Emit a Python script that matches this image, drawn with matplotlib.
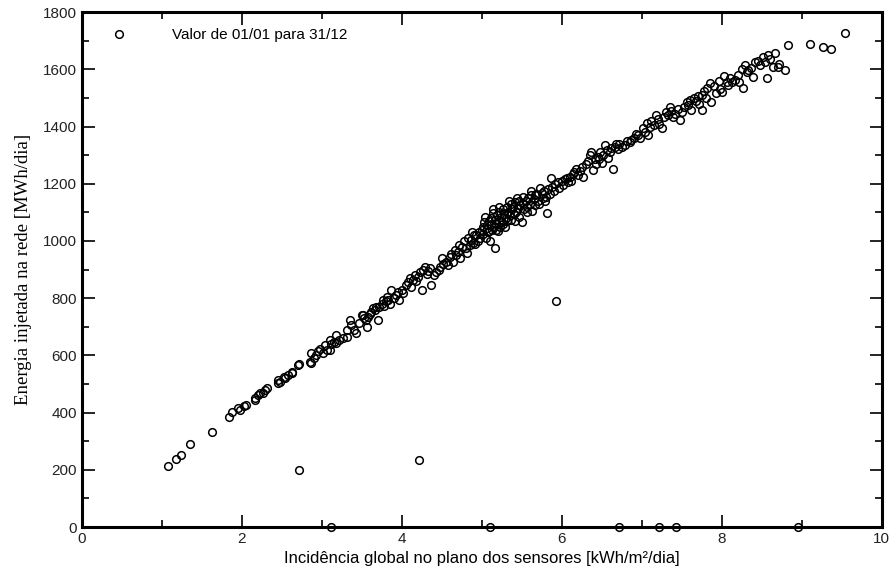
import matplotlib.pyplot as plt
from matplotlib.ticker import MultipleLocator

# daily values (kWh/m2/dia vs MWh/dia)
irrad = [
    1.08, 1.18, 1.24, 1.35, 1.63, 1.84, 1.87, 1.95, 1.97,
    2.05, 2.03, 2.16, 2.16, 2.20, 2.23, 2.26, 2.31, 2.29, 2.45, 2.45, 2.47, 2.52, 2.54,
    2.58, 2.62, 2.62, 2.70, 2.72, 2.85, 2.87, 2.87, 2.90, 2.93, 2.95, 2.98,
    3.02, 3.04, 3.06, 3.10, 3.10, 3.12, 3.15, 3.18, 3.18, 3.22, 3.27, 3.31, 3.31, 3.35,
    3.37, 3.40, 3.43, 3.50, 3.52, 3.53, 3.55, 3.56, 3.58, 3.62, 3.64, 3.66, 3.70, 3.72,
    3.75, 3.78, 3.80, 3.83, 3.85, 3.87, 3.90, 3.93, 3.96, 4.00,
    3.47, 3.60, 3.68, 3.77, 3.82, 3.95,
    4.02, 4.05, 4.08, 4.10, 4.12, 4.16, 4.18, 4.20, 4.23, 4.25, 4.27, 4.29, 4.31, 4.33,
    4.37, 4.40, 4.43, 4.46, 4.50, 4.52, 4.55, 4.58, 4.60, 4.64, 4.66, 4.68, 4.70, 4.73,
    4.75, 4.78, 4.81, 4.83, 4.85, 4.87, 4.89, 4.90, 4.93, 4.95, 4.97, 4.98,
    4.14, 4.35, 4.48, 4.62, 4.72, 4.80, 4.88, 4.92,
    5.00, 5.01, 5.02, 5.03, 5.05, 5.06, 5.07, 5.08, 5.09, 5.10, 5.11, 5.12, 5.13, 5.14,
    5.15, 5.16, 5.17, 5.18, 5.19, 5.20, 5.21, 5.22, 5.23, 5.24, 5.25, 5.26, 5.27, 5.28,
    5.30, 5.31, 5.32, 5.33, 5.35, 5.36, 5.37, 5.38, 5.39, 5.40, 5.42, 5.43, 5.45, 5.46,
    5.47, 5.48, 5.50, 5.51, 5.52, 5.53, 5.55, 5.57, 5.58, 5.60, 5.62, 5.63, 5.65, 5.67,
    5.68, 5.70, 5.72, 5.75, 5.76, 5.78, 5.80, 5.81, 5.83, 5.85, 5.87, 5.88, 5.90, 5.92,
    5.95, 5.97,
    5.04, 5.09, 5.14, 5.18, 5.22, 5.29, 5.34, 5.41, 5.44, 5.56, 5.61, 5.66, 5.73, 5.79,
    6.00, 6.02, 6.04, 6.06, 6.08, 6.10, 6.12, 6.15, 6.18, 6.20, 6.23, 6.25, 6.27, 6.30,
    6.33, 6.35, 6.37, 6.39, 6.41, 6.43, 6.45, 6.48, 6.50, 6.52, 6.54, 6.56, 6.58, 6.60,
    6.62, 6.64, 6.66, 6.70, 6.72, 6.75, 6.79, 6.82, 6.85, 6.87, 6.90, 6.93, 6.95, 6.98,
    6.14, 6.46, 6.68,
    7.02, 7.04, 7.06, 7.08, 7.10, 7.12, 7.15, 7.18, 7.20, 7.22, 7.25, 7.28, 7.30, 7.33,
    7.35, 7.37, 7.39, 7.42, 7.45, 7.48, 7.50, 7.53, 7.56, 7.58, 7.60, 7.62, 7.65, 7.68,
    7.70, 7.72, 7.75, 7.75, 7.78, 7.80, 7.82, 7.85, 7.87, 7.90, 7.93, 7.96, 7.98,
    8.00, 8.03, 8.06, 8.08, 8.10, 8.13, 8.16, 8.20, 8.22, 8.25, 8.27, 8.29, 8.31, 8.33,
    8.36, 8.39, 8.41, 8.45, 8.48, 8.52, 8.54, 8.56, 8.58, 8.60, 8.64, 8.66, 8.70, 8.72,
    8.79, 8.83, 9.10, 9.27, 9.37, 9.54,
    2.72, 4.22, 5.93,
    3.12, 5.10, 6.72, 7.22, 7.43, 8.95,
]
energia = [
    214, 237, 252, 290, 331, 383, 401, 415, 410,
    426, 423, 444, 450, 461, 468, 467, 485, 478, 502, 514, 508, 523, 520,
    530, 537, 543, 566, 569, 578, 572, 607, 590, 600, 615, 624,
    610, 636, 620, 654, 619, 640, 648, 642, 671, 655, 660, 665, 689, 723,
    706, 690, 677, 741, 741, 730, 722, 700, 735, 750, 764, 758, 724, 770,
    780, 772, 790, 793, 780, 828, 800, 812, 795, 830,
    712, 745, 770, 795, 805, 820,
    817, 845, 855, 869, 840, 881, 860, 875, 890, 828, 900, 910, 885, 895,
    846, 880, 892, 900, 939, 920, 925, 915, 945, 927, 968, 950, 960, 939,
    980, 1000, 957, 1010, 986, 1005, 992, 1020, 1021, 1000, 1030, 1012,
    865, 905, 910, 955, 985, 975, 1030, 990,
    1040, 1050, 1026, 1065, 1010, 1045, 1055, 1030, 1070, 1000, 1060, 1080, 1040, 1096,
    1050, 974, 1075, 1060, 1090, 1035, 1070, 1100, 1050, 1085, 1065, 1110, 1061, 1095,
    1080, 1120, 1070, 1100, 1090, 1130, 1075, 1110, 1120, 1095, 1135, 1100, 1115, 1140,
    1085, 1125, 1067, 1130, 1154, 1110, 1140, 1120, 1150, 1130, 1160, 1105, 1145, 1125,
    1165, 1140, 1130, 1166, 1150, 1175, 1155, 1096, 1180, 1165, 1219, 1190, 1175, 1200,
    1207, 1185,
    1085, 1035, 1110, 1040, 1120, 1050, 1140, 1070, 1150, 1100, 1175, 1160, 1185, 1140,
    1210, 1195, 1215, 1219, 1205, 1225, 1210, 1240, 1253, 1230, 1245, 1260, 1224, 1270,
    1280, 1300, 1312, 1248, 1285, 1270, 1295, 1310, 1271, 1300, 1335, 1318, 1290, 1310,
    1325, 1253, 1329, 1320, 1340, 1330, 1335, 1350, 1345, 1353, 1360, 1375, 1370, 1360,
    1235, 1285, 1340,
    1395, 1380, 1411, 1370, 1400, 1420, 1405, 1440, 1425, 1410, 1394, 1435, 1450, 1440,
    1469, 1455, 1434, 1445, 1460, 1423, 1452, 1470, 1485, 1475, 1492, 1458, 1500, 1490,
    1505, 1480, 1510, 1458, 1525, 1500, 1535, 1551, 1487, 1540, 1516, 1560, 1530,
    1522, 1575, 1557, 1545, 1570, 1555, 1562, 1580, 1555, 1600, 1533, 1615, 1590, 1597,
    1605, 1574, 1626, 1630, 1615, 1644, 1625, 1568, 1650, 1635, 1609, 1656, 1609, 1620,
    1597, 1685, 1690, 1679, 1670, 1726,
    198, 235, 790,
    0, 0, 0, 0, 0, 0,
]

fig, ax = plt.subplots(figsize=(8.96, 5.76), dpi=100)
fig.subplots_adjust(left=0.0915, right=0.984, bottom=0.085, top=0.979)

ax.plot(irrad, energia, 'o', ms=5.5, mfc='none', mec='black', mew=1.1,
        clip_on=False, zorder=3, label='Valor de 01/01 para 31/12')

ax.set_xlim(0, 10)
ax.set_ylim(0, 1800)
ax.xaxis.set_major_locator(MultipleLocator(2))
ax.xaxis.set_minor_locator(MultipleLocator(1))
ax.yaxis.set_major_locator(MultipleLocator(200))
ax.yaxis.set_minor_locator(MultipleLocator(100))
ax.tick_params(which='both', direction='in', top=True, right=True, width=1.2,
               labelsize=11, labelfontfamily='Liberation Sans', labelcolor='#222222')
ax.tick_params(which='major', length=9)
ax.tick_params(which='minor', length=5)
for s in ax.spines.values():
    s.set_linewidth(2.2)

ax.set_xlabel('Incidência global no plano dos sensores [kWh/m²/dia]',
              fontsize=12, family='Liberation Sans', labelpad=4)
ax.set_ylabel('Energia injetada na rede [MWh/dia]', fontsize=13.5,
              family='Liberation Serif', labelpad=8)

ax.legend(loc='upper left', frameon=False, handletextpad=2.5,
          prop={'family': 'Liberation Sans', 'size': 11},
          bbox_to_anchor=(0.01, 0.995))

plt.savefig('out.png')
